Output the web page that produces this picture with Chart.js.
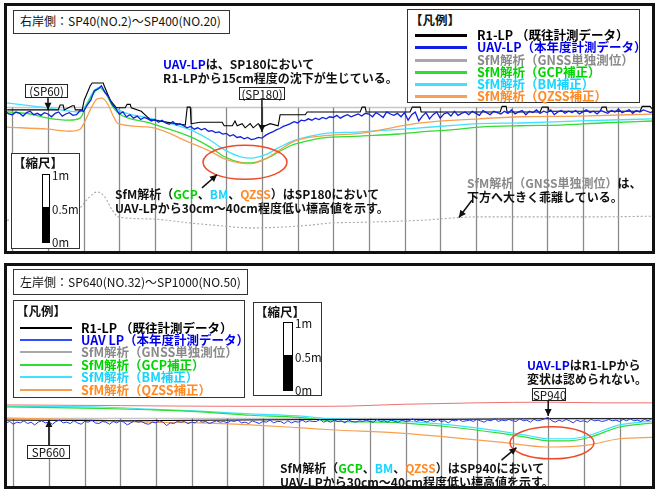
<!DOCTYPE html>
<html>
<head>
<meta charset="utf-8">
<script src="https://cdn.jsdelivr.net/npm/chart.js@4"></script>
<style>
  body { margin:0; width:655px; height:489px; background:#fff; position:relative; overflow:hidden;
         font-family:"Noto Sans CJK JP","Noto Sans",sans-serif; color:#111; }
  .panel { position:absolute; border:3px solid #111; box-sizing:border-box; }
  canvas { position:absolute; }
  .box { position:absolute; border:1.5px solid #333; background:#fff; box-sizing:border-box; }
  .note { position:absolute; font-weight:bold; font-size:12px; line-height:13.5px; white-space:nowrap; color:#111; }
  .title { position:absolute; font-size:12px; line-height:14px; white-space:nowrap; }
  .tag { position:absolute; border:1px solid #222; background:#fff; font-size:11.5px; line-height:12px;
         text-align:center; box-sizing:border-box; white-space:nowrap; }
  .lg { position:absolute; font-weight:bold; font-size:12.5px; line-height:14px; white-space:nowrap; }
  .lgline { position:absolute; }
  .sb { position:absolute; border:1px solid #000; background:#fff; box-sizing:border-box; }
  .sb div { position:absolute; left:0; right:0; bottom:0; background:#000; }
  .sl { position:absolute; font-size:11.5px; line-height:12px; white-space:nowrap; }
  .u { color:#0000ee; } .g { color:#00d000; } .c { color:#18d4ff; } .o { color:#ff8a26; } .k { color:#8a8a8a; }
</style>
</head>
<body>
<div class="panel" style="left:4px;top:3px;width:651px;height:251px;"></div>
<div class="panel" style="left:4px;top:263px;width:651px;height:226px;"></div>
<canvas id="cTop" width="645" height="245" style="left:7px;top:6px;"></canvas>
<canvas id="cBot" width="645" height="220" style="left:7px;top:266px;"></canvas>

<!-- right bank panel -->
<div class="box" style="left:13px;top:10px;width:217px;height:24px;"></div>
<div class="title" style="left:20px;top:14px;">右岸側：SP40(NO.2)～SP400(NO.20)</div>
<div class="box" id="lgTop" style="left:407px;top:9px;width:233px;height:94px;"></div>
<div class="note" style="left:163px;top:57px;"><span class="u">UAV-LP</span>は、SP180において<br>R1-LPから15cm程度の沈下が生じている。</div>
<div class="tag" style="left:25px;top:84px;width:43px;height:14px;">(SP60)</div>
<div class="tag" style="left:239px;top:87px;width:46px;height:13px;">(SP180)</div>
<div class="note" style="left:115px;top:187px;">SfM解析（<span class="g">GCP</span>、<span class="c">BM</span>、<span class="o">QZSS</span>）はSP180において<br>UAV-LPから30cm～40cm程度低い標高値を示す。</div>
<div class="note" style="left:467px;top:176px;"><span class="k">SfM解析（GNSS単独測位）</span>は、<br>下方へ大きく乖離している。</div>
<div class="box" style="left:11px;top:153px;width:69px;height:96px;"></div>
<div class="lg" style="left:13px;top:156px;">【縮尺】</div>
<div class="sb" id="sbTop" style="left:42px;top:174px;width:8px;height:69px;"><div></div></div>
<div class="sl" id="sbTop1" style="left:52px;top:168px;">1m</div>
<div class="sl" id="sbTop5" style="left:52px;top:203px;">0.5m</div>
<div class="sl" id="sbTop0" style="left:52px;top:236px;">0m</div>

<!-- left bank panel -->
<div class="box" style="left:13px;top:269px;width:235px;height:26px;"></div>
<div class="title" style="left:20px;top:275px;">左岸側：SP640(NO.32)～SP1000(NO.50)</div>
<div class="box" id="lgBot" style="left:13px;top:300px;width:232px;height:98px;"></div>
<div class="box" style="left:253px;top:302px;width:69px;height:94px;"></div>
<div class="lg" style="left:255px;top:305px;">【縮尺】</div>
<div class="sb" id="sbBot" style="left:283px;top:322px;width:10px;height:69px;"><div></div></div>
<div class="sl" id="sbBot1" style="left:295px;top:316px;">1m</div>
<div class="sl" id="sbBot5" style="left:295px;top:351px;">0.5m</div>
<div class="sl" id="sbBot0" style="left:295px;top:383px;">0m</div>
<div class="note" style="left:527px;top:358px;"><span class="u">UAV-LP</span>はR1-LPから<br>変状は認められない。</div>
<div class="tag" style="left:532px;top:388px;width:34px;height:13px;">SP940</div>
<div class="tag" style="left:27px;top:445px;width:43px;height:14px;">SP660</div>
<div class="note" style="left:280px;top:461px;">SfM解析（<span class="g">GCP</span>、<span class="c">BM</span>、<span class="o">QZSS</span>）はSP940において<br>UAV-LPから30cm～40cm程度低い標高値を示す。</div>

<script>
// ---- series names and colours ----
const seriesNames = ['R1-LP （既往計測データ）', 'UAV-LP（本年度計測データ）', 'SfM解析（GNSS単独測位）',
                     'SfM解析（GCP補正）', 'SfM解析（BM補正）', 'SfM解析（QZSS補正）'];
const seriesNamesLeft = ['R1-LP （既往計測データ）', 'UAV LP（本年度計測データ）', 'SfM解析（GNSS単独測位）',
                         'SfM解析（GCP補正）', 'SfM解析（BM補正）', 'SfM解析（QZSS補正）'];
const lineColors = ['#000000', '#1020e0', '#a8a8a8', '#30dd30', '#40e2ff', '#f7a053'];
const textColors = ['#000000', '#0000ee', '#8a8a8a', '#00d400', '#18d4ff', '#ff8a26'];

// ---- right bank: SP40 - SP400 (elevation in m above section datum) ----
const rightGridSP = [40, 60, 80, 100, 120, 140, 160, 180, 200, 220, 240, 260, 280, 300, 320, 340, 360, 380];
const rightUavStart = 36;   // UAV-LP sampled every 2 SP
const rightUav = [
  2.04, 2.00, 1.99, 2.03, 2.01, 1.97, 2.02, 2.04, 1.99, 2.01,
  1.98, 2.02, 2.00, 1.96, 2.01, 2.03, 1.97, 2.00, 2.02, 1.98,
  1.99, 2.05, 2.04, 2.13, 2.20, 2.34, 2.36, 2.41, 2.31, 2.25,
  2.14, 2.08, 2.00, 2.03, 1.96, 1.99, 1.94, 1.97, 1.92, 1.95,
  1.93, 1.90, 1.92, 1.88, 1.91, 1.87, 1.85, 1.89, 1.84, 1.86,
  1.83, 1.80, 1.82, 1.78, 1.80, 1.77, 1.79, 1.75, 1.76, 1.73,
  1.74, 1.71, 1.72, 1.68, 1.70, 1.66, 1.67, 1.64, 1.66, 1.63,
  1.64, 1.66, 1.65, 1.69, 1.72, 1.74, 1.77, 1.79, 1.82, 1.84,
  1.86, 1.89, 1.87, 1.91, 1.90, 1.93, 1.91, 1.94, 1.92, 1.95,
  1.93, 1.96, 1.95, 1.98, 1.94, 1.97, 1.99, 1.96, 1.98, 2.00,
  1.97, 2.01, 2.00, 1.96, 2.02, 1.99, 1.95, 2.03, 2.00, 1.98,
  2.01, 1.96, 2.02, 1.91, 1.99, 2.03, 1.90, 1.97, 2.02, 1.93,
  1.99, 2.03, 1.94, 2.00, 2.02, 1.97, 2.04, 1.98, 2.01, 2.03,
  1.99, 2.04, 2.01, 1.98, 2.05, 2.02, 1.99, 2.04, 2.02, 2.00,
  2.04, 2.01, 2.06, 2.00, 2.03, 2.05, 1.99, 2.04, 2.02, 2.06,
  2.01, 2.04, 2.02, 2.06, 1.99, 2.03, 2.05, 2.01, 2.04, 2.02,
  2.05, 2.00, 2.03, 2.06, 2.02, 2.04, 2.00, 2.05, 2.03, 2.01,
  2.05, 2.03, 2.07, 2.02, 2.04, 2.06, 2.01, 2.05, 2.03, 2.06,
  2.04, 2.02, 2.05
];
const rightR1SP = [37.1, 65.7, 66.8, 68.5, 69.1, 73.6, 74.7, 75.3, 79.2, 80.3, 83.7, 84.8, 91.0, 91.5, 94.9, 98.3,
  103.3, 104.4, 106.1, 106.7, 112.3, 117.3, 137.0, 138.1, 139.8, 140.3, 145.4, 157.7, 158.8, 163.4, 164.9, 166.1,
  168.9, 170.6, 173.4, 175.1, 177.9, 180.1, 184.6, 189.1, 190.2, 204.3, 205.4, 235.1, 236.2, 237.9, 238.5, 263.1,
  264.3, 268.8, 269.3, 313.6, 314.7, 317.0, 317.5, 336.0, 337.2, 340.5, 341.1, 369.7, 370.8, 373.1, 373.6, 392.1,
  393.3, 397.7, 400];
const rightR1 = [2.06, 2.06, 2.13, 2.13, 2.06, 2.12, 2.12, 2.06, 2.06, 2.20, 2.41, 2.45, 2.45, 2.41, 2.20, 2.09,
  2.09, 2.14, 2.14, 2.09, 2.04, 1.92, 1.84, 2.10, 2.10, 1.86, 1.88, 1.88, 1.83, 1.83, 1.90, 1.83,
  1.86, 1.80, 1.86, 1.80, 1.86, 1.81, 1.86, 1.83, 1.99, 1.99, 2.03, 2.03, 2.10, 2.10, 2.03, 2.03,
  2.10, 2.10, 2.03, 2.03, 2.11, 2.11, 2.03, 2.03, 2.10, 2.10, 2.04, 2.04, 2.10, 2.10, 2.04, 2.04,
  2.11, 2.11, 2.04];
const rightGcpSP = [37, 50, 60, 72, 78, 81, 85, 89, 92.5, 96, 99.5, 117, 140, 151, 159, 168, 174, 182, 190, 196, 201,
  213, 235, 257, 269, 286, 302, 325, 347, 370, 400];
const rightGcp = [2.03, 2.00, 1.94, 1.91, 1.94, 2.09, 2.28, 2.38, 2.29, 2.12, 2.01, 1.87, 1.67, 1.52, 1.38, 1.30, 1.29,
  1.35, 1.46, 1.54, 1.58, 1.65, 1.68, 1.71, 1.74, 1.77, 1.81, 1.83, 1.84, 1.87, 1.90];
const rightBmSP = [37, 60, 78, 81.4, 84.8, 89, 92.6, 96, 99.4, 117, 140, 151, 159, 168, 174, 182, 190, 198.6, 213,
  235, 269, 302, 325, 358, 400];
const rightBm = [2.16, 2.09, 2.03, 2.14, 2.30, 2.39, 2.30, 2.14, 2.06, 1.94, 1.77, 1.62, 1.48, 1.38, 1.36, 1.41, 1.52,
  1.62, 1.71, 1.74, 1.80, 1.86, 1.87, 1.90, 1.93];
const rightQzssSP = [37, 60, 72, 78, 80.3, 83.7, 87.6, 90.4, 93.8, 96.6, 99.4, 117, 140, 151, 159, 168, 174, 182, 190,
  198.6, 213, 235, 269, 302, 325, 358, 400];
const rightQzss = [1.81, 1.78, 1.75, 1.78, 1.87, 2.06, 2.22, 2.23, 2.13, 1.97, 1.86, 1.81, 1.58, 1.46, 1.35, 1.29, 1.28,
  1.35, 1.48, 1.61, 1.68, 1.72, 1.87, 1.93, 1.96, 1.97, 2.00];
const rightGnssSP = [37, 55, 72.5, 78, 82.6, 87.6, 91.5, 96, 99.4, 117, 140, 157, 173, 190, 207, 218, 235, 269, 302,
  342, 370, 400];
const rightGnss = [0.46, 0.49, 0.55, 0.64, 0.78, 0.87, 0.81, 0.61, 0.51, 0.48, 0.42, 0.38, 0.35, 0.36, 0.39, 0.42,
  0.43, 0.46, 0.51, 0.51, 0.51, 0.52];

// ---- left bank: SP640 - SP1000 ----
const leftGridSP = [640, 660, 680, 700, 720, 740, 760, 780, 800, 820, 840, 860, 880, 900, 920, 940, 960, 980];
const leftUavStart = 636;
const leftUav = [
  0.93, 0.95, 0.91, 0.94, 0.93, 0.96, 0.92, 0.94, 0.90, 0.94,
  0.96, 0.93, 0.94, 0.91, 0.95, 0.97, 0.93, 0.94, 0.92, 0.96,
  0.93, 0.91, 0.95, 0.94, 0.97, 0.93, 0.92, 0.95, 0.94, 0.91,
  0.95, 0.93, 0.96, 0.94, 0.90, 0.93, 0.96, 0.94, 0.95, 0.92,
  0.91, 0.94, 0.93, 0.96, 0.94, 0.89, 0.93, 0.92, 0.95, 0.94,
  0.95, 0.92, 0.94, 0.93, 0.97, 0.94, 0.95, 0.92, 0.94, 0.96,
  0.94, 0.95, 0.93, 0.96, 0.95, 0.97, 0.93, 0.94, 0.92, 0.96,
  0.94, 0.92, 0.95, 0.94, 0.97, 0.93, 0.95, 0.95, 0.92, 0.96,
  0.93, 0.95, 0.94, 0.97, 0.94, 0.96, 0.95, 0.95, 0.98, 0.94,
  0.96, 0.94, 0.97, 0.95, 0.96, 0.93, 0.97, 0.95, 0.94, 0.96,
  0.95, 0.97, 0.95, 0.94, 0.98, 0.95, 0.96, 0.94, 0.97, 0.95,
  0.94, 0.97, 0.95, 0.96, 0.99, 0.95, 0.97, 0.96, 0.94, 0.97,
  0.95, 0.98, 0.95, 0.96, 0.93, 0.97, 0.96, 0.98, 0.95, 0.96,
  0.97, 0.95, 0.98, 0.96, 0.94, 0.97, 0.96, 0.99, 0.95, 0.97,
  0.96, 0.98, 0.96, 0.95, 0.99, 0.96, 0.97, 0.94, 0.98, 0.96,
  0.97, 0.99, 1.01, 0.96, 0.94, 0.97, 0.95, 0.98, 0.96, 0.93,
  0.97, 0.95, 0.96, 0.94, 0.98, 0.96, 0.97, 0.95, 0.96, 0.98,
  0.96, 0.97, 0.95, 0.98, 0.96, 0.99, 0.96, 0.97, 0.95, 0.98,
  0.96, 0.99, 0.97
];
const leftR1SP = [636, 700, 760, 820, 880, 940, 1000];
const leftR1 = [0.97, 0.96, 0.97, 0.98, 0.98, 0.99, 0.99];
const leftGcpSP = [636, 688, 716, 745, 773, 800, 818, 857, 885, 913, 930, 940, 952, 963, 980, 1000];
const leftGcp = [1.16, 1.14, 1.12, 1.09, 1.04, 1.01, 0.96, 0.93, 0.87, 0.78, 0.71, 0.67, 0.67, 0.72, 0.87, 0.93];
const leftBm = [1.17, 1.16, 1.13, 1.10, 1.06, 1.03, 0.99, 0.96, 0.90, 0.81, 0.74, 0.70, 0.70, 0.75, 0.90, 0.96];
const leftQzssSP = [636, 688, 716, 745, 773, 800, 818, 857, 885, 913, 940, 955, 963, 980, 1000];
const leftQzss = [1.00, 0.97, 0.94, 0.93, 0.90, 0.86, 0.83, 0.78, 0.72, 0.65, 0.58, 0.59, 0.61, 0.70, 0.72];
const leftRedSP = [636, 700, 760, 818, 860, 900, 940, 970, 1000];
const leftRed = [1.19, 1.18, 1.17, 1.17, 1.20, 1.22, 1.23, 1.22, 1.22];

// ---- helpers ----
const pairs = (xs, ys) => ys.map((y, i) => ({ x: xs[i], y }));
const stepped = (start, step, ys) => ys.map((y, i) => ({ x: start + i * step, y }));

function line(label, data, color, width, order, extra) {
  return Object.assign({ label, data, borderColor: color, borderWidth: width, pointRadius: 0,
    fill: false, order, tension: 0 }, extra || {});
}
const smooth = { cubicInterpolationMode: 'monotone' };

function arrow(ctx, x1, y1, x2, y2) {
  ctx.beginPath(); ctx.moveTo(x1, y1); ctx.lineTo(x2, y2); ctx.stroke();
  const a = Math.atan2(y2 - y1, x2 - x1), L = 7, W = 3.5;
  ctx.beginPath(); ctx.moveTo(x2, y2);
  ctx.lineTo(x2 - L * Math.cos(a) + W * Math.sin(a), y2 - L * Math.sin(a) - W * Math.cos(a));
  ctx.lineTo(x2 - L * Math.cos(a) - W * Math.sin(a), y2 - L * Math.sin(a) + W * Math.cos(a));
  ctx.closePath(); ctx.fill();
}

// station grid, circled zone and pointer arrows, all placed through the chart scales
function makeDecor(cfg) {
  return {
    id: 'decor',
    beforeDatasetsDraw(chart) {
      const { ctx, chartArea: a, scales: { x, y } } = chart;
      const yt = Math.round(y.getPixelForValue(cfg.gridTop)) + 0.5;
      ctx.save();
      ctx.strokeStyle = '#c6c6c6'; ctx.lineWidth = 1.5;
      ctx.beginPath(); ctx.moveTo(a.left, yt); ctx.lineTo(a.right, yt); ctx.stroke();
      ctx.strokeStyle = '#8a8a8a'; ctx.lineWidth = 1.3;
      cfg.gridSP.forEach(sp => {
        const px = Math.round(x.getPixelForValue(sp)) + 0.5;
        ctx.beginPath(); ctx.moveTo(px, yt); ctx.lineTo(px, a.bottom); ctx.stroke();
      });
      ctx.restore();
    },
    afterDatasetsDraw(chart) {
      const { ctx, scales: { x, y } } = chart;
      ctx.save();
      const e = cfg.ellipse;
      ctx.strokeStyle = '#ef4a28'; ctx.lineWidth = 1.5;
      ctx.beginPath();
      ctx.ellipse(x.getPixelForValue(e.sp), y.getPixelForValue(e.v), e.rx, e.ry, 0, 0, Math.PI * 2);
      ctx.stroke();
      ctx.strokeStyle = '#111'; ctx.fillStyle = '#111'; ctx.lineWidth = 1.5;
      cfg.arrows.forEach(r => arrow(ctx, x.getPixelForValue(r[0]), y.getPixelForValue(r[1]),
                                         x.getPixelForValue(r[2]), y.getPixelForValue(r[3])));
      ctx.restore();
    }
  };
}

function baseOptions(xr, yr) {
  return {
    responsive: false, animation: false, devicePixelRatio: 1,
    layout: { padding: 0 },
    scales: {
      x: { type: 'linear', min: xr[0], max: xr[1], display: false },
      y: { type: 'linear', min: yr[0], max: yr[1], display: false }
    },
    plugins: { legend: { display: false }, tooltip: { enabled: false } }
  };
}

const topChart = new Chart(document.getElementById('cTop'), {
  type: 'line',
  data: { datasets: [
    line(seriesNames[1], stepped(rightUavStart, 2, rightUav), lineColors[1], 1.3, 0),
    line(seriesNames[0], pairs(rightR1SP, rightR1), lineColors[0], 1.1, 1),
    line(seriesNames[5], pairs(rightQzssSP, rightQzss), lineColors[5], 1.3, 2, smooth),
    line(seriesNames[3], pairs(rightGcpSP, rightGcp), lineColors[3], 1.3, 3, smooth),
    line(seriesNames[4], pairs(rightBmSP, rightBm), lineColors[4], 1.3, 4, smooth),
    line(seriesNames[2], pairs(rightGnssSP, rightGnss), lineColors[2], 1.1, 5,
         Object.assign({ borderDash: [2, 2] }, smooth))
  ] },
  options: baseOptions([37.0, 398.8], [0.015, 3.565]),
  plugins: [makeDecor({
    gridSP: rightGridSP, gridTop: 2.10,
    ellipse: { sp: 170.5, v: 1.30, rx: 42, ry: 17 },
    arrows: [[60, 2.25, 60, 2.06], [180, 2.22, 180, 1.74], [146.4, 0.93, 154.8, 1.12], [297.8, 0.75, 290.5, 0.50]]
  })]
});

const botChart = new Chart(document.getElementById('cBot'), {
  type: 'line',
  data: { datasets: [
    line(seriesNamesLeft[1], stepped(leftUavStart, 2, leftUav), '#2638e8', 1.0, 0),
    line(seriesNamesLeft[0], pairs(leftR1SP, leftR1), lineColors[0], 1.0, 1),
    line(seriesNamesLeft[5], pairs(leftQzssSP, leftQzss), lineColors[5], 1.2, 2, smooth),
    line(seriesNamesLeft[3], pairs(leftGcpSP, leftGcp), lineColors[3], 1.2, 3, smooth),
    line(seriesNamesLeft[4], pairs(leftGcpSP, leftBm), lineColors[4], 1.2, 4, smooth),
    line('', pairs(leftRedSP, leftRed), '#ee7070', 1.0, 5, smooth)
  ] },
  options: baseOptions([636.5, 998.2], [0.015, 3.203]),
  plugins: [makeDecor({
    gridSP: leftGridSP, gridTop: 1.00,
    ellipse: { sp: 942.1, v: 0.64, rx: 42, ry: 16 },
    arrows: [[660, 0.61, 660, 0.97], [940, 1.26, 940, 1.03], [913.8, 0.39, 922.2, 0.57]]
  })]
});

// legends
function buildLegend(box, names, rowCenters, lineX, lineW, widths, textX) {
  const b = document.getElementById(box);
  const r = b.getBoundingClientRect();
  const t = document.createElement('div');
  t.className = 'lg'; t.textContent = '【凡例】';
  t.style.left = (r.left + 3) + 'px'; t.style.top = (r.top + 4) + 'px';
  document.body.appendChild(t);
  names.forEach((n, i) => {
    const cy = rowCenters[i];
    const l = document.createElement('div');
    l.className = 'lgline';
    l.style.left = lineX + 'px'; l.style.width = lineW + 'px';
    l.style.top = (cy - widths[i] / 2) + 'px'; l.style.height = widths[i] + 'px';
    l.style.background = i === 1 && box === 'lgBot' ? '#3050ff' : lineColors[i];
    document.body.appendChild(l);
    const s = document.createElement('div');
    s.className = 'lg'; s.textContent = n; s.style.color = textColors[i];
    s.style.left = textX + 'px'; s.style.top = (cy - 7) + 'px';
    document.body.appendChild(s);
  });
}
buildLegend('lgTop', seriesNames, [35, 47, 60, 72, 84, 96], 415, 52, [3, 3, 3, 3, 3, 3], 477);
buildLegend('lgBot', seriesNamesLeft, [328, 340, 352, 365, 377, 390], 20, 52, [2.5, 1.5, 2.5, 2.5, 2.5, 2], 81);

// scale bars sized from the vertical scale (1 m)
function sizeScaleBar(chart, id) {
  const y = chart.scales.y;
  const h = Math.round(y.getPixelForValue(0) - y.getPixelForValue(1));
  const bar = document.getElementById(id);
  const top = parseFloat(bar.style.top);
  bar.style.height = h + 'px';
  bar.firstElementChild.style.height = Math.round(h / 2) + 'px';
  document.getElementById(id + '1').style.top = (top - 5) + 'px';
  document.getElementById(id + '5').style.top = (top + h / 2 - 6) + 'px';
  document.getElementById(id + '0').style.top = (top + h - 7) + 'px';
}
sizeScaleBar(topChart, 'sbTop');
sizeScaleBar(botChart, 'sbBot');
</script>
</body>
</html>
